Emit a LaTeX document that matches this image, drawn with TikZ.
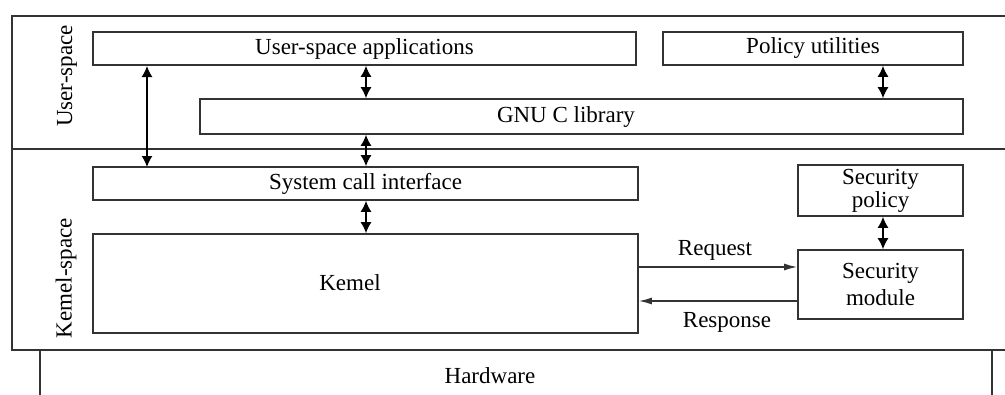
\documentclass[tikz,border=0pt]{standalone}
\usepackage{fontspec}
\setmainfont{Liberation Serif}
\usetikzlibrary{arrows.meta}
\definecolor{linegray}{HTML}{333333}

\begin{document}
\begin{tikzpicture}[
  x=1pt, y=-1pt,
  box/.style={draw=linegray, line width=1.6pt, rectangle, inner sep=0pt,
              font=\fontsize{23}{24}\selectfont, align=center},
  frame/.style={draw=linegray, line width=1.6pt},
  both/.style={line width=1.5pt, draw=black, {Latex[length=11pt,width=11pt]}-{Latex[length=11pt,width=11pt]}},
  one/.style={line width=1.5pt, draw=linegray, -{Latex[length=13pt,width=7pt]}},
  side/.style={rotate=90, font=\fontsize{23}{24}\selectfont},
  tag/.style={font=\fontsize{23}{24}\selectfont}
  ]
  \useasboundingbox (0,0) rectangle (1005,394);
  \clip (0,0) rectangle (1005,394);

  % frame and layers
  \draw[frame] (1010,16) -- (12,16) -- (12,350) -- (1010,350);
  \draw[frame] (12,149) -- (1010,149);
  \draw[frame] (40,400) -- (40,350) (992,350) -- (992,400);
  \node[tag] (hardware) at (490,376) {Hardware};
  \node[side] (userlbl) at (67,76) {User-space};
  \node[side] (kernlbl) at (66,278) {Kemel-space};

  % user space
  \node[box, minimum width=543, minimum height=33] (apps) at (364.5,48.5) {User-space applications};
  \node[box, minimum width=300, minimum height=33] (policyutil) at (813,48.5) {Policy utilities};
  \node[box, minimum width=763, minimum height=35] (glibc) at (581.5,116.5) {};
  \node[tag] (glibclbl) at (566,116.5) {GNU C library};

  % kernel space
  \node[box, minimum width=545, minimum height=33] (syscall) at (365.5,183.5) {System call interface};
  \node[box, minimum width=545, minimum height=99] (kernel) at (365.5,283.5) {};
  \node[tag] (kernellbl) at (350,283) {Kemel};
  \node[box, minimum width=165, minimum height=51] (secpolicy) at (880.5,190.5) {Security\\[-1pt]policy};
  \node[box, minimum width=165, minimum height=69] (secmodule) at (880.5,284.5) {Security\\[3pt]module};

  % connectors
  \coordinate (lefttop) at (147,66);
  \coordinate (leftbot) at (147,167);
  \draw[both] (lefttop) -- (leftbot);
  \draw[both] (apps.south -| 366,0) -- (glibc.north -| 366,0);
  \draw[both] (glibc.south -| 366,0) -- (syscall.north -| 366,0);
  \draw[both] (syscall.south -| 366,0) -- (kernel.north -| 366,0);
  \draw[both] (policyutil.south -| 883,0) -- (glibc.north -| 883,0);
  \draw[both] (secpolicy.south -| 883,0) -- (secmodule.north -| 883,0);

  \draw[one] (kernel.east |- 0,267) -- (secmodule.west |- 0,267);
  \node[tag] (req) at (715,250) {Request};
  \draw[one] (secmodule.west |- 0,301) -- (kernel.east |- 0,301);
  \node[tag] (resp) at (727,322) {Response};
\end{tikzpicture}
\end{document}
